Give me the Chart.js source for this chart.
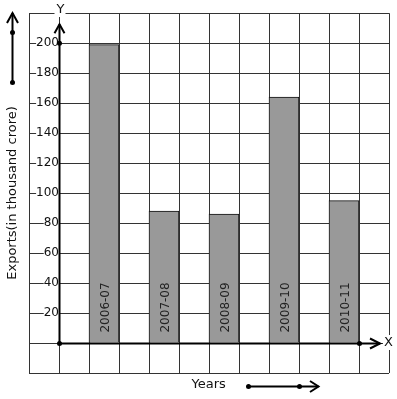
<!DOCTYPE html>
<html>
<head>
<meta charset="utf-8">
<script src="https://cdn.jsdelivr.net/npm/chart.js@4.4.1/dist/chart.umd.min.js"></script>
<style>
  html, body { margin: 0; padding: 0; background: #ffffff; }
  canvas { display: block; }
</style>
</head>
<body>
<canvas id="c" width="397" height="399"></canvas>
<script>
// ---- data ----
const years = ['2006-07', '2007-08', '2008-09', '2009-10', '2010-11'];
const exportsValues = [199, 88, 86, 164, 95];
const yTickLabels = [20, 40, 60, 80, 100, 120, 140, 160, 180, 200];
const yTitle = 'Exports(in thousand crore)';
const xTitle = 'Years';

// 12 grid slots; bars sit in every other slot starting at slot 2
const slotCount = 12;
const slotLabels = [];
const slotValues = [];
for (let s = 0; s < slotCount; s++) { slotLabels.push(''); slotValues.push(null); }
years.forEach((y, i) => { slotLabels[2 + 2 * i] = y; slotValues[2 + 2 * i] = exportsValues[i]; });

const FONT = "'DejaVu Sans', sans-serif";

function dot(ctx, x, y, r) {
  ctx.beginPath(); ctx.arc(x, y, r, 0, Math.PI * 2); ctx.fill();
}

const decorations = {
  id: 'decorations',
  afterDraw(chart) {
    const ctx = chart.ctx;
    const xs = chart.scales.x, ys = chart.scales.y;
    const area = chart.chartArea;
    const ox = xs.getPixelForValue(0.5) + 0.5;
    const oy = ys.getPixelForValue(0) + 0.5;
    const yTop = ys.getPixelForValue(200);
    ctx.save();
    ctx.strokeStyle = '#000'; ctx.fillStyle = '#000'; ctx.lineWidth = 2;
    ctx.lineCap = 'butt';

    // Y axis with arrow
    const yArrowTip = area.top + 11;
    ctx.beginPath(); ctx.moveTo(ox, oy); ctx.lineTo(ox, yArrowTip); ctx.stroke();
    ctx.beginPath(); ctx.moveTo(ox - 5, yArrowTip + 9); ctx.lineTo(ox, yArrowTip); ctx.lineTo(ox + 5, yArrowTip + 9); ctx.stroke();
    dot(ctx, ox, yTop, 2.5);
    dot(ctx, ox, oy, 2.5);

    // X axis with arrow
    const xArrowTip = area.right - 9;
    ctx.beginPath(); ctx.moveTo(ox, oy); ctx.lineTo(xArrowTip, oy); ctx.stroke();
    ctx.beginPath(); ctx.moveTo(xArrowTip - 10, oy - 5); ctx.lineTo(xArrowTip, oy); ctx.lineTo(xArrowTip - 10, oy + 5); ctx.stroke();
    dot(ctx, xs.getPixelForValue(10.5) + 0.5, oy, 2.5);

    // left decorative arrow
    const lx = 12.5;
    ctx.beginPath(); ctx.moveTo(lx, 83); ctx.lineTo(lx, 13); ctx.stroke();
    ctx.beginPath(); ctx.moveTo(lx - 5.5, 23); ctx.lineTo(lx, 13); ctx.lineTo(lx + 5.5, 23); ctx.stroke();
    dot(ctx, lx, 32.5, 2.5);
    dot(ctx, lx, 82.5, 2.5);

    // bottom decorative arrow
    const by = 386.5;
    ctx.beginPath(); ctx.moveTo(248.5, by); ctx.lineTo(318.5, by); ctx.stroke();
    ctx.beginPath(); ctx.moveTo(310, by - 5.5); ctx.lineTo(318.5, by); ctx.lineTo(310, by + 5.5); ctx.stroke();
    dot(ctx, 248.5, by, 2.5);
    dot(ctx, 299.5, by, 2.5);

    // axis letters with white backdrops
    ctx.fillStyle = '#fff';
    ctx.fillRect(ox - 5, 3, 11, 14);
    ctx.fillRect(383, 335, 11, 15);
    ctx.fillStyle = '#111';
    ctx.font = '13px ' + FONT;
    ctx.textAlign = 'center'; ctx.textBaseline = 'middle';
    ctx.fillText('Y', ox + 1, 10);
    ctx.fillText('X', 388.5, 342.5);

    // axis titles
    ctx.textAlign = 'left';
    ctx.fillText(xTitle, 191.5, 385);
    ctx.save();
    ctx.translate(13, 193);
    ctx.rotate(-Math.PI / 2);
    ctx.textAlign = 'center';
    ctx.fillText(yTitle, 0, 0);
    ctx.restore();

    // labels inside bars
    const meta = chart.getDatasetMeta(0);
    ctx.font = '12px ' + FONT;
    ctx.fillStyle = '#222';
    meta.data.forEach((el, i) => {
      if (slotValues[i] === null) return;
      ctx.save();
      ctx.translate(el.x + 4.5, el.base - 10);
      ctx.rotate(-Math.PI / 2);
      ctx.textAlign = 'left';
      ctx.textBaseline = 'alphabetic';
      ctx.fillText(slotLabels[i], 0, 0);
      ctx.restore();
    });
    ctx.restore();
  }
};

new Chart(document.getElementById('c'), {
  type: 'bar',
  data: {
    labels: slotLabels,
    datasets: [{
      data: slotValues,
      backgroundColor: '#999999',
      borderColor: '#111111',
      borderWidth: 1,
      barPercentage: 1,
      categoryPercentage: 1
    }]
  },
  options: {
    responsive: false,
    animation: false,
    devicePixelRatio: 1,
    layout: { padding: { left: 29, top: 13, right: 8, bottom: 26 } },
    plugins: { legend: { display: false }, tooltip: { enabled: false }, title: { display: false } },
    scales: {
      x: {
        type: 'category',
        offset: true,
        grid: { offset: true, color: '#333', lineWidth: 1, drawTicks: false },
        border: { display: false },
        ticks: { display: false }
      },
      y: {
        type: 'linear',
        position: { x: 0.5 },
        min: -20,
        max: 220,
        grid: { color: '#333', lineWidth: 1, drawTicks: false },
        border: { display: false },
        ticks: {
          stepSize: 20,
          padding: 6,
          color: '#111',
          font: { family: FONT, size: 12 },
          showLabelBackdrop: true,
          backdropColor: '#ffffff',
          backdropPadding: 0,
          callback: (v) => yTickLabels.includes(v) ? String(v) : ''
        }
      }
    }
  },
  plugins: [decorations]
});
</script>
</body>
</html>
